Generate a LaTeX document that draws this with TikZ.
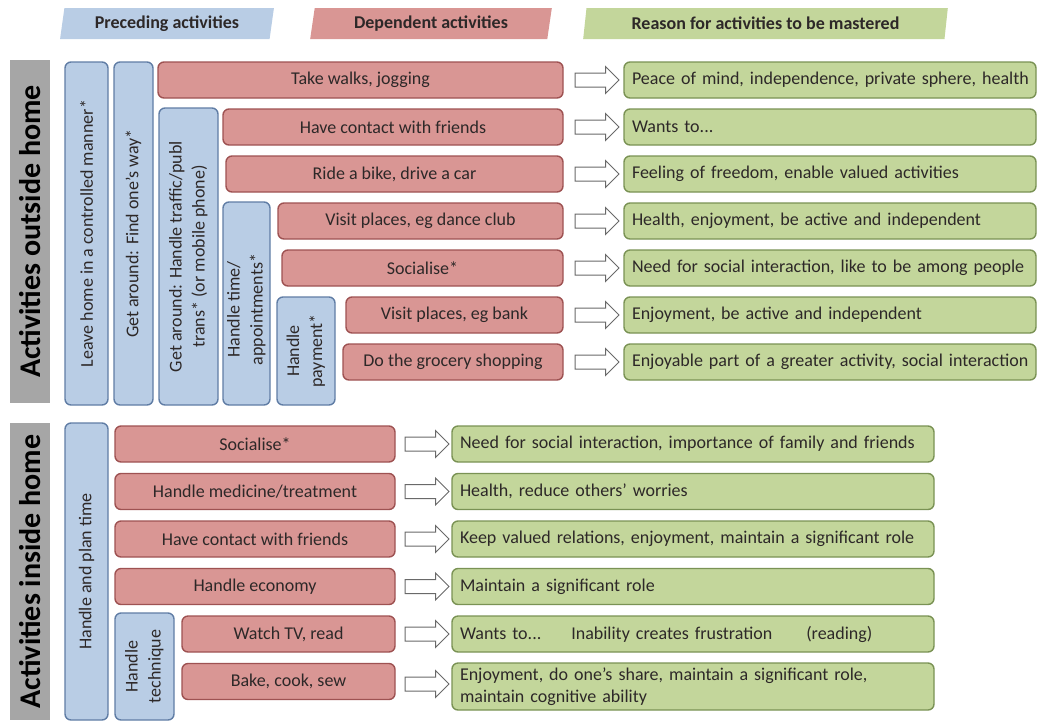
\documentclass[tikz,border=0pt]{standalone}
\usepackage{fontspec}
\setmainfont{Carlito}
\usetikzlibrary{shapes.geometric,shapes.arrows}
\definecolor{precFill}{RGB}{185,205,229}
\definecolor{precLine}{RGB}{96,125,165}
\definecolor{depFill}{RGB}{217,150,148}
\definecolor{depLine}{RGB}{158,82,82}
\definecolor{reasonFill}{RGB}{195,214,155}
\definecolor{reasonLine}{RGB}{122,146,84}
\definecolor{sideGray}{RGB}{166,166,166}
\definecolor{arrowGray}{RGB}{105,105,105}
\definecolor{inkDark}{RGB}{45,40,40}
\newcommand{\bodyfont}{\fontsize{18}{22}\selectfont}
\newcommand{\colfont}{\fontsize{18}{23}\selectfont}
\tikzset{
  prec node/.style={draw=precLine,fill=precFill,rounded corners=6pt,line width=1.4pt,rotate=90,text=inkDark,font=\colfont,inner sep=0pt},
  dep node/.style={draw=depLine,fill=depFill,rounded corners=6pt,line width=1.4pt,text=inkDark,font=\bodyfont,minimum height=36pt,inner sep=0pt},
  reason node/.style={draw=reasonLine,fill=reasonFill,rounded corners=6pt,line width=1.4pt,text=inkDark,font=\bodyfont,minimum height=36pt,align=left,inner xsep=8pt,inner ysep=0pt},
  block arrow/.style={single arrow,draw=arrowGray,fill=white,line width=1pt,minimum height=44pt,minimum width=26pt,single arrow head extend=6.5pt,inner xsep=0pt,inner ysep=6.5pt},
  head tab/.style={trapezium,trapezium left angle=79,trapezium right angle=101,trapezium stretches=true,minimum height=31pt,inner sep=0pt,text=inkDark,font=\bfseries\fontsize{18}{22}\selectfont},
  side bar/.style={fill=sideGray,rotate=90,minimum height=40pt,inner sep=0pt,text=black,font=\bfseries\fontsize{30}{34}\selectfont}
}
\begin{document}
\begin{tikzpicture}[x=1pt,y=-1pt]
  \useasboundingbox (0,0) rectangle (1039,724);
  % column headers
  \node[head tab,fill=precFill,minimum width=214pt] (hPrec) at (167,23.5) {Preceding activities};
  \node[head tab,fill=depFill,minimum width=242pt] (hDep) at (431,23.5) {Dependent activities};
  \node[head tab,fill=reasonFill,minimum width=365pt] (hReason) at (765.5,23.5) {Reason for activities to be mastered};
  \node[side bar,minimum width=343pt] (sideOut) at (30,231.5) {Activities outside home};
  \node[side bar,minimum width=297pt] (sideIn) at (30,571.5) {Activities inside home};

  % outside home
  \node[prec node,minimum width=343pt,minimum height=43pt] (leave) at (86.5,233.5) {Leave home in a controlled manner*};
  \node[prec node,minimum width=343pt,minimum height=39pt] (findWay) at (133.5,233.5) {Get around: Find one's way*};
  \node[prec node,minimum width=297pt,minimum height=59pt] (traffic) at (188.5,256.5) {\begin{tabular}{@{}c@{}}Get around: Handle traffic/publ\\trans* (or mobile phone)\end{tabular}};
  \node[prec node,minimum width=203pt,minimum height=47pt] (timeAppt) at (246.5,303.5) {\begin{tabular}{@{}c@{}}Handle time/\\appointments*\end{tabular}\hspace*{12pt}};
  \node[prec node,minimum width=108pt,minimum height=58pt] (payment) at (306,351) {\begin{tabular}{@{}c@{}}Handle\\payment*\end{tabular}};

  \node[dep node,minimum width=405pt] (walks) at (360.5,80) {Take walks, jogging};
  \node[dep node,minimum width=340pt] (friendsOut) at (393,127) {Have contact with friends};
  \node[dep node,minimum width=337pt] (bike) at (394.5,174) {Ride a bike, drive a car};
  \node[dep node,minimum width=285pt] (dance) at (420.5,221) {Visit places, eg dance club};
  \node[dep node,minimum width=281pt] (socialOut) at (422.5,268) {Socialise*};
  \node[dep node,minimum width=217pt] (bank) at (454.5,315) {Visit places, eg bank};
  \node[dep node,minimum width=220pt] (grocery) at (453,362) {Do the grocery shopping};

  \node[reason node,text width=396pt] (rWalks) at (830,80) {\mbox{Peace of mind, independence, private sphere, health}};
  \node[reason node,text width=396pt] (rFriendsOut) at (830,127) {Wants to...};
  \node[reason node,text width=396pt] (rBike) at (830,174) {Feeling of freedom, enable valued activities};
  \node[reason node,text width=396pt] (rDance) at (830,221) {Health, enjoyment, be active and independent};
  \node[reason node,text width=396pt] (rSocialOut) at (830,268) {\mbox{Need for social interaction, like to be among people}};
  \node[reason node,text width=396pt] (rBank) at (830,315) {Enjoyment, be active and independent};
  \node[reason node,text width=396pt] (rGrocery) at (830,362) {\mbox{Enjoyable part of a greater activity, social interaction}};

  \path (walks.east) -- node[block arrow] {} (rWalks.west);
  \path (friendsOut.east) -- node[block arrow] {} (rFriendsOut.west);
  \path (bike.east) -- node[block arrow] {} (rBike.west);
  \path (dance.east) -- node[block arrow] {} (rDance.west);
  \path (socialOut.east) -- node[block arrow] {} (rSocialOut.west);
  \path (bank.east) -- node[block arrow] {} (rBank.west);
  \path (grocery.east) -- node[block arrow] {} (rGrocery.west);

  % inside home
  \node[prec node,minimum width=297pt,minimum height=43pt] (planTime) at (86.5,571.5) {Handle and plan time};
  \node[prec node,minimum width=107pt,minimum height=59pt] (technique) at (144.5,666.5) {\begin{tabular}{@{}c@{}}Handle\\technique\end{tabular}};

  \node[dep node,minimum width=280pt] (socialIn) at (255,444) {Socialise*};
  \node[dep node,minimum width=280pt] (medicine) at (255,491.5) {Handle medicine/treatment};
  \node[dep node,minimum width=280pt] (friendsIn) at (255,539) {Have contact with friends};
  \node[dep node,minimum width=280pt] (economy) at (255,586.5) {Handle economy};
  \node[dep node,minimum width=213pt] (tv) at (288.5,634) {Watch TV, read};
  \node[dep node,minimum width=213pt] (bake) at (288.5,681.5) {Bake, cook, sew};

  \node[reason node,text width=466pt] (rSocialIn) at (693,444) {Need for social interaction, importance of family and friends};
  \node[reason node,text width=466pt] (rMedicine) at (693,491.5) {Health, reduce others' worries};
  \node[reason node,text width=466pt] (rFriendsIn) at (693,539) {Keep valued relations, enjoyment, maintain a significant role};
  \node[reason node,text width=466pt] (rEconomy) at (693,586.5) {Maintain a significant role};
  \node[reason node,text width=466pt] (rTv) at (693,634) {Wants to...\hspace{30pt}Inability creates frustration\hspace{34pt}(reading)};
  \node[reason node,text width=466pt,minimum height=47pt] (rBake) at (693,686.5) {Enjoyment, do one's share, maintain a significant role,\\maintain cognitive ability};

  \path (socialIn.east) -- node[block arrow] {} (rSocialIn.west);
  \path (medicine.east) -- node[block arrow] {} (rMedicine.west);
  \path (friendsIn.east) -- node[block arrow] {} (rFriendsIn.west);
  \path (economy.east) -- node[block arrow] {} (rEconomy.west);
  \path (tv.east) -- node[block arrow] {} (rTv.west);
  \path (bake.east) -- node[block arrow] {} (rBake.west);
\end{tikzpicture}
\end{document}
